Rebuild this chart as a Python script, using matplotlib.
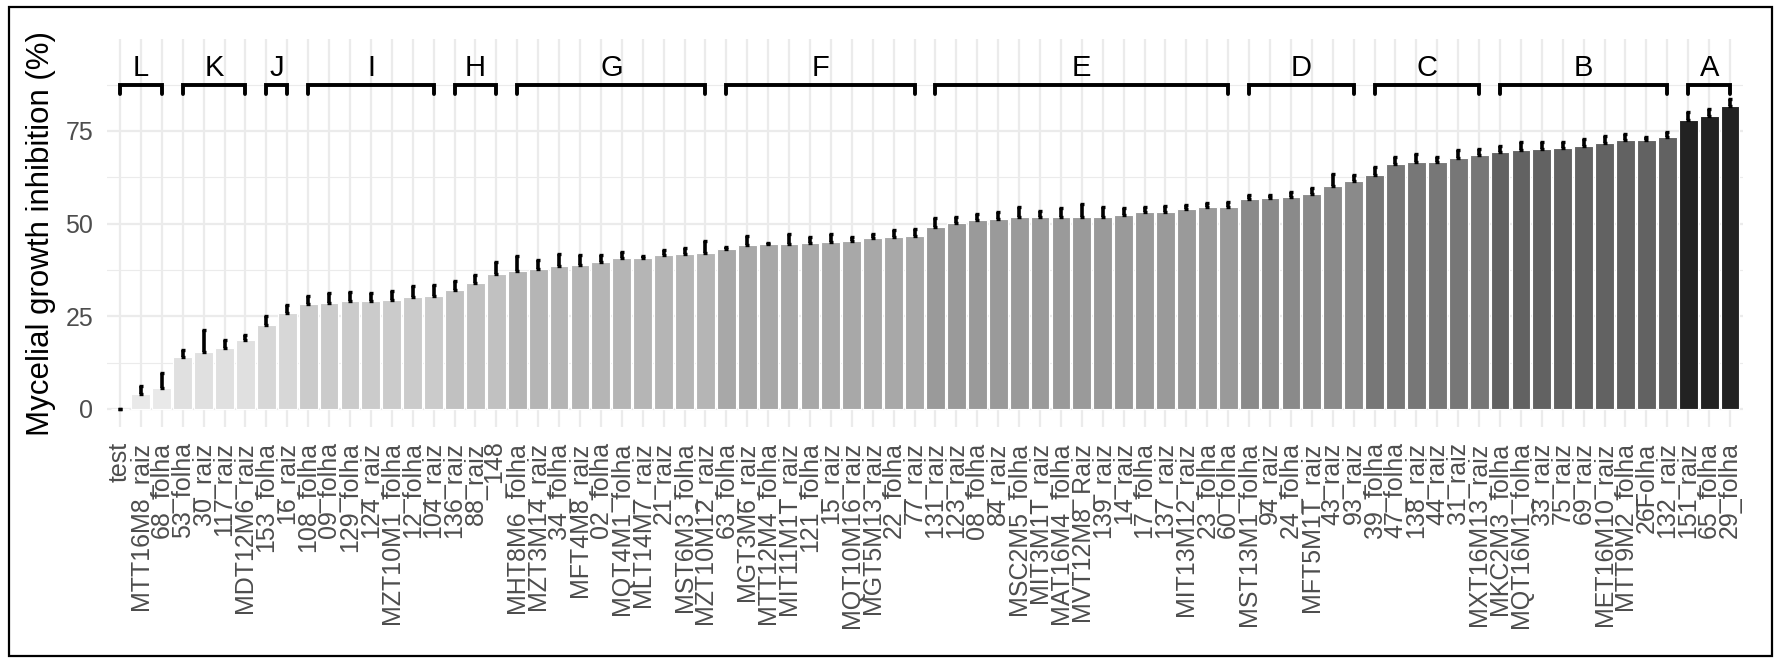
import matplotlib
matplotlib.use("Agg")
import matplotlib.pyplot as plt
from matplotlib.patches import Rectangle
import numpy as np

isolates = ["test", "MTT16M8_raiz", "68_folha", "53_folha", "30_raiz", "117_raiz", "MDT12M6_raiz",
            "153_folha", "16_raiz", "108_folha", "09_folha", "129_folha", "124_raiz", "MZT10M1_folha",
            "12_folha", "104_raiz", "136_raiz", "88_raiz", "_148", "MHT8M6_folha", "MZT3M14_raiz",
            "34_folha", "MFT4M8_raiz", "02_folha", "MQT4M1_folha", "MLT14M7_raiz", "21_raiz",
            "MST6M3_folha", "MZT10M12_raiz", "63_folha", "MGT3M6_raiz", "MTT12M4_folha",
            "MIT11M1T_raiz", "121_folha", "15_raiz", "MQT10M16_raiz", "MGT5M13_raiz", "22_folha",
            "77_raiz", "131_raiz", "123_raiz", "08_folha", "84_raiz", "MSC2M5_folha", "MIT3M1T_raiz",
            "MAT16M4_folha", "MVT12M8_Raiz", "139_raiz", "14_raiz", "17_folha", "137_raiz",
            "MIT13M12_raiz", "23_folha", "60_folha", "MST13M1_folha", "94_raiz", "24_folha",
            "MFT5M1T_raiz", "43_raiz", "93_raiz", "39_folha", "47_folha", "138_raiz", "44_raiz",
            "31_raiz", "MXT16M13_raiz", "MKC2M3_folha", "MQT16M1_folha", "33_raiz", "75_raiz",
            "69_raiz", "MET16M10_raiz", "MTT9M2_folha", "26Folha", "132_raiz", "151_raiz",
            "65_folha", "29_folha"]

inhibition = [0.0, 4.0, 5.7, 14.1, 15.5, 16.5, 18.6, 22.7, 25.8, 28.3, 28.7, 29.2, 29.2, 29.5,
              30.1, 30.6, 32.1, 34.1, 36.3, 37.3, 37.7, 38.6, 38.8, 39.7, 40.7, 40.8, 41.5, 41.7,
              42.2, 43.1, 44.2, 44.5, 44.6, 44.8, 45.1, 45.2, 46.1, 46.3, 46.6, 49.2, 50.3, 50.9,
              51.2, 51.7, 51.7, 51.9, 51.9, 51.9, 52.2, 53.0, 53.1, 53.9, 54.5, 54.6, 56.6, 56.8,
              57.1, 58.0, 60.2, 61.6, 63.0, 66.1, 66.5, 66.7, 67.8, 68.6, 69.2, 69.9, 70.0, 70.5,
              71.0, 71.8, 72.6, 72.6, 73.5, 78.0, 79.0, 81.8]

sd = [0.0, 2.2, 3.9, 1.8, 5.8, 2.1, 1.4, 2.4, 2.2, 2.2, 2.5, 2.4, 2.0, 2.2, 3.0, 2.9, 2.3, 2.0,
      3.4, 4.0, 2.5, 3.2, 2.8, 1.8, 1.7, 0.5, 1.3, 1.6, 3.0, 0.5, 2.4, 0.4, 2.7, 1.7, 2.0, 1.3,
      1.1, 2.0, 2.0, 2.2, 1.6, 1.6, 1.9, 2.8, 1.8, 2.2, 3.4, 2.7, 1.9, 1.4, 1.7, 1.0, 1.1, 1.3,
      1.2, 0.8, 1.4, 1.7, 3.2, 1.6, 2.3, 2.0, 2.2, 1.2, 2.1, 1.4, 1.8, 2.2, 2.0, 1.4, 1.8, 1.9,
      1.5, 0.9, 1.3, 2.1, 1.8, 1.8]

groups = ["L", "K", "J", "I", "H", "G", "F", "E", "D", "C", "B", "A"]
group_sizes = [3, 4, 2, 7, 3, 10, 10, 15, 6, 6, 9, 3]
group_colors = ["#E9E9E9", "#E0E0E0", "#D7D7D7", "#CBCBCB", "#C1C1C1", "#B5B5B5",
                "#A8A8A8", "#9A9A9A", "#8A8A8A", "#777777", "#626262", "#222222"]

yticks = [0, 25, 50, 75]

W, H = 1780, 664
fig = plt.figure(figsize=(W / 100, H / 100), dpi=100)
ax = fig.add_axes([107 / W, 1 - 427 / H, (1743 - 107) / W, (427 - 39) / H])

x = np.arange(len(isolates))
bar_colors = []
for c, n in zip(group_colors, group_sizes):
    bar_colors += [c] * n

ax.set_axisbelow(True)
for s in ax.spines.values():
    s.set_visible(False)
ax.set_xlim(-0.62, len(isolates) - 1 + 0.62)
ax.set_ylim(-4.86, 99.8)
ax.set_yticks(yticks)
ax.set_yticks([12.5, 37.5, 62.5, 87.5], minor=True)
ax.grid(True, which="major", color="#EBEBEB", linewidth=1.6)
ax.grid(True, which="minor", axis="y", color="#EBEBEB", linewidth=0.8)
ax.tick_params(which="both", length=0)

ax.bar(x, inhibition, width=0.9, color=bar_colors, edgecolor="white", linewidth=0.8, zorder=2)
ax.errorbar(x, inhibition, yerr=[np.zeros(len(sd)), sd], fmt="none", ecolor="black",
            elinewidth=2.6, capsize=1.6, capthick=2.4, zorder=3)

ax.set_xticks(x)
ax.set_xticklabels(isolates, rotation=90, ha="center", va="top", fontsize=18,
                   color="#4D4D4D", family="Liberation Sans")
ax.tick_params(axis="x", pad=11)
ax.set_yticklabels([str(v) for v in yticks], fontsize=18, color="#4D4D4D", family="Liberation Sans")
ax.tick_params(axis="y", pad=10)

start = 0
for g, n in zip(groups, group_sizes):
    a, b = start, start + n - 1
    ax.plot([a, a, b, b], [85.0, 87.5, 87.5, 85.0], color="black", linewidth=2.8,
            solid_capstyle="round", solid_joinstyle="miter", zorder=4, clip_on=False)
    ax.text((a + b) / 2, 89.9, g, ha="center", va="baseline", fontsize=21,
            family="Liberation Sans", color="black")
    start += n

fig.text(41 / W, 1 - 234 / H, "Mycelial growth inhibition (%)", rotation=90, ha="center",
         va="center", fontsize=22.5, family="Liberation Sans", color="black")

fig.patches.append(Rectangle((9 / W, 1 - 656 / H), 1763 / W, 649 / H, fill=False,
                             edgecolor="black", linewidth=1.6, transform=fig.transFigure))

fig.savefig("out.png", dpi=100)
